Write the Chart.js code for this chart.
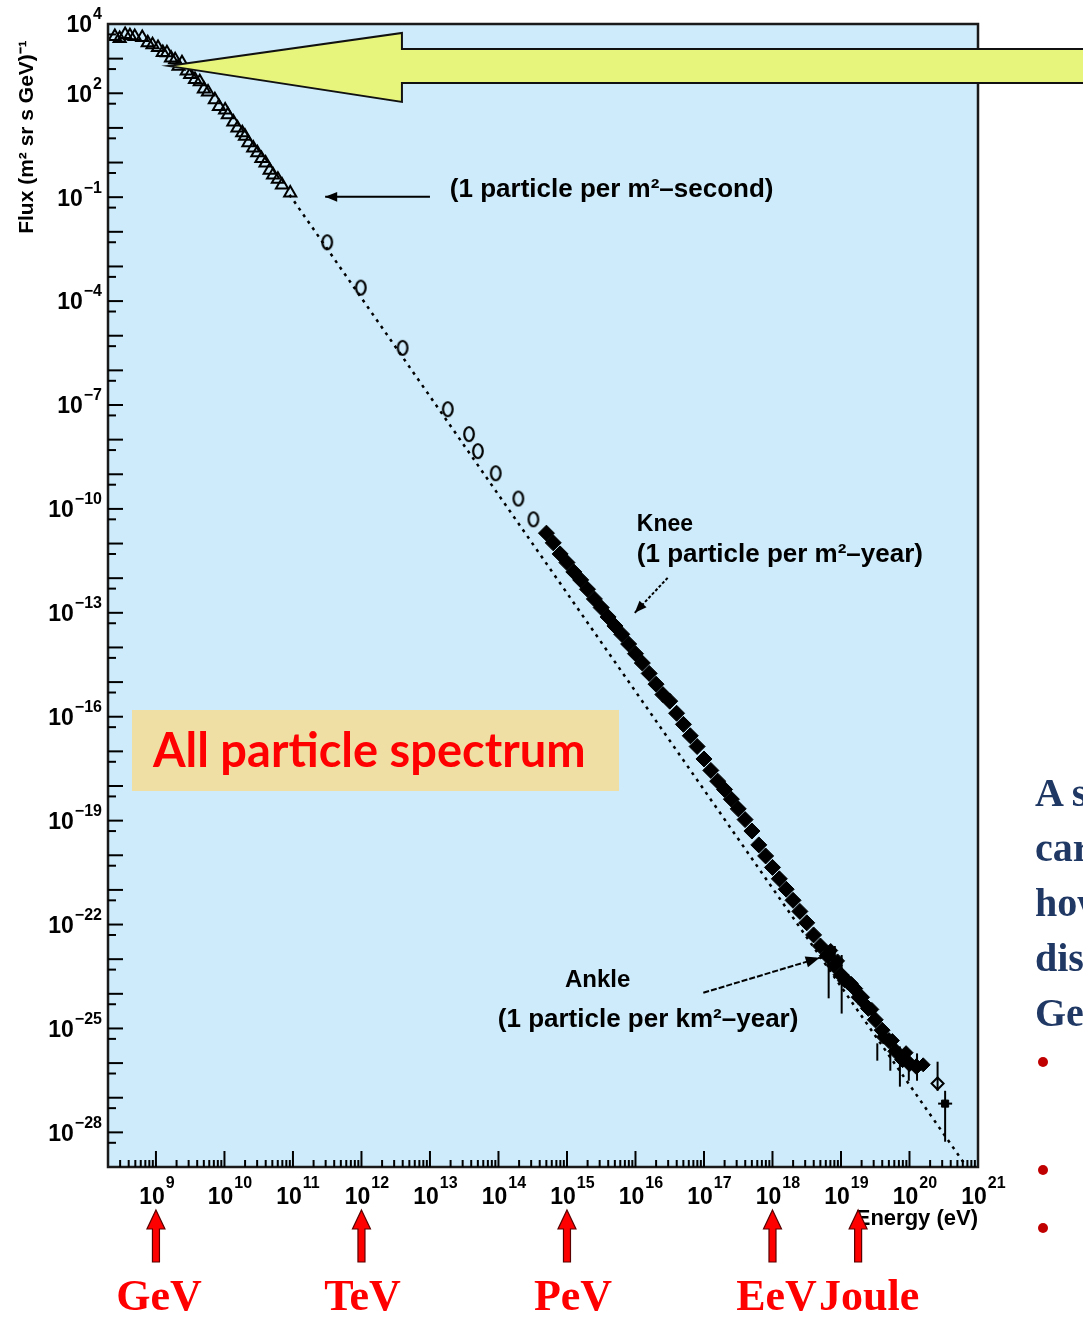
<!DOCTYPE html>
<html>
<head>
<meta charset="utf-8">
<script src="https://cdn.jsdelivr.net/npm/chart.js@4.4.1/dist/chart.umd.min.js"></script>
<style>
  html, body { margin: 0; padding: 0; background: #fff; overflow: hidden; }
  #wrap { position: relative; width: 1083px; height: 1317px; }
  #chart { position: absolute; left: 0; top: 0; }
  #side { position: absolute; left: 1035px; top: 765px; white-space: nowrap;
          font: bold 40px "Liberation Serif", "Times New Roman", serif; color: #1f3864; line-height: 55px; }
  .dot { position: absolute; left: 1038px; width: 10px; height: 10px; border-radius: 50%; background: #c00000; }
</style>
</head>
<body>
<div id="wrap">
  <canvas id="chart" width="1083" height="1317"></canvas>
  <div id="side">
    <div>A single particle</div>
    <div>carries</div>
    <div>how</div>
    <div>distant</div>
    <div>GeV</div>
  </div>
  <div class="dot" style="top:1057px"></div>
  <div class="dot" style="top:1165px"></div>
  <div class="dot" style="top:1223px"></div>
</div>
<script>
// values, as log10(energy / eV) and log10(flux)
const triangleLogE = [8.40, 8.47, 8.55, 8.62, 8.69, 8.80, 8.88, 8.95, 9.03, 9.10, 9.16, 9.22, 9.28, 9.33, 9.38,
                      9.45, 9.50, 9.57, 9.64, 9.70, 9.76, 9.86, 9.92, 10.01, 10.05, 10.13, 10.19, 10.26, 10.30,
                      10.35, 10.42, 10.48, 10.54, 10.60, 10.66, 10.71, 10.78, 10.84, 10.96];
const triangleLogF = [3.64, 3.58, 3.70, 3.66, 3.64, 3.61, 3.46, 3.40, 3.32, 3.18, 3.17, 3.02, 2.97, 2.78, 2.88,
                      2.64, 2.54, 2.40, 2.33, 2.12, 2.04, 1.81, 1.62, 1.52, 1.38, 1.17, 1.00, 0.86, 0.76,
                      0.57, 0.42, 0.28, 0.12, -0.01, -0.22, -0.36, -0.48, -0.65, -0.88];

const circleLogE = [11.50, 11.99, 12.60, 13.26, 13.57, 13.70, 13.96, 14.29, 14.51];
const circleLogF = [-2.30, -3.61, -5.35, -7.12, -7.84, -8.33, -8.97, -9.70, -10.30];

const denseLogE = [14.7, 14.8, 14.9, 15.0, 15.1, 15.2, 15.3, 15.4, 15.5, 15.6, 15.7, 15.8, 15.9, 16.0, 16.1,
                   16.2, 16.3, 16.4, 16.5, 16.6, 16.7, 16.8, 16.9, 17.0, 17.1, 17.2, 17.3, 17.4, 17.5, 17.6,
                   17.7, 17.8, 17.9, 18.0, 18.1, 18.2, 18.3, 18.4, 18.5, 18.6, 18.7, 18.8, 18.9, 19.0, 19.1,
                   19.2, 19.3, 19.4, 19.5, 19.6, 19.7, 19.8, 19.9, 20.0, 20.1];
const denseLogF = [-10.70, -10.98, -11.30, -11.55, -11.82, -12.05, -12.32, -12.60, -12.85, -13.12, -13.38,
                   -13.62, -13.90, -14.18, -14.45, -14.75, -15.06, -15.36, -15.55, -15.90, -16.22, -16.55,
                   -16.86, -17.22, -17.55, -17.86, -18.10, -18.38, -18.66, -18.97, -19.30, -19.70, -20.02,
                   -20.35, -20.68, -20.98, -21.30, -21.62, -21.95, -22.30, -22.62, -22.90, -23.18, -23.45,
                   -23.66, -23.85, -24.10, -24.42, -24.75, -25.05, -25.35, -25.66, -25.90, -26.02, -26.10];

const ankleLogE = [18.85, 18.95, 19.05, 19.15, 19.25, 19.35, 19.45, 19.62, 19.75, 19.95, 20.2];
const ankleLogF = [-22.75, -23.05, -23.62, -23.70, -24.10, -24.30, -24.45, -25.25, -25.35, -25.70, -26.05];

const errLogE    = [18.82, 18.91, 19.01, 19.53, 19.72, 19.86, 19.99, 20.11, 20.41, 20.52];
const errLogHigh = [-23.00, -22.62, -22.88, -25.43, -25.49, -25.52, -25.64, -25.72, -25.96, -26.80];
const errLogLow  = [-24.13, -23.26, -24.57, -25.93, -26.22, -26.68, -26.51, -26.51, -26.80, -28.27];

const openTopLogE = [20.41];
const openTopLogF = [-26.59];
const lastLogE = [20.52];
const lastLogF = [-27.17];

const fitLogE = [10.95, 20.8];
const fitLogF = [-0.93, -28.9];

const xTickExp = [9, 10, 11, 12, 13, 14, 15, 16, 17, 18, 19, 20, 21];
const yTickExp = [4, 2, -1, -4, -7, -10, -13, -16, -19, -22, -25, -28];

const unitLabels = ['GeV', 'TeV', 'PeV', 'EeV', 'Joule'];
const unitLogE = [9, 12, 15, 18, 19.25];

const toPoints = (xs, ys) => xs.map((e, i) => ({ x: Math.pow(10, e), y: Math.pow(10, ys[i]) }));

// tall open ring used for the "0"-like markers
const ring = document.createElement('canvas');
ring.width = 14; ring.height = 18;
(function () {
    const rc = ring.getContext('2d');
    rc.strokeStyle = '#000';
    rc.lineWidth = 2.2;
    rc.beginPath();
    rc.ellipse(7, 9, 4.8, 7, 0, 0, Math.PI * 2);
    rc.stroke();
})();

const SANS = '"Liberation Sans", Arial, sans-serif';

function supText(exp) {
    return exp < 0 ? '\u2212' + Math.abs(exp) : String(exp);
}

function arrow(ctx, x1, y1, x2, y2, head, dash) {
    ctx.save();
    ctx.strokeStyle = '#000';
    ctx.fillStyle = '#000';
    ctx.lineWidth = 2;
    if (dash) ctx.setLineDash(dash);
    ctx.beginPath(); ctx.moveTo(x1, y1); ctx.lineTo(x2, y2); ctx.stroke();
    ctx.setLineDash([]);
    const a = Math.atan2(y2 - y1, x2 - x1);
    ctx.beginPath();
    ctx.moveTo(x2, y2);
    ctx.lineTo(x2 - head * Math.cos(a) + head * 0.4 * Math.sin(a), y2 - head * Math.sin(a) - head * 0.4 * Math.cos(a));
    ctx.lineTo(x2 - head * Math.cos(a) - head * 0.4 * Math.sin(a), y2 - head * Math.sin(a) + head * 0.4 * Math.cos(a));
    ctx.closePath();
    ctx.fill();
    ctx.restore();
}

const decor = {
    id: 'decor',
    beforeDraw(chart) {
        const { ctx, chartArea: a } = chart;
        ctx.save();
        ctx.fillStyle = '#ffffff';
        ctx.fillRect(0, 0, chart.width, chart.height);
        ctx.fillStyle = '#cdebfa';
        ctx.fillRect(a.left, a.top, a.right - a.left, a.bottom - a.top);
        ctx.restore();
    },
    afterDatasetsDraw(chart) {
        const { ctx, chartArea: a } = chart;
        const px = v => chart.scales.x.getPixelForValue(Math.pow(10, v));
        const py = v => chart.scales.y.getPixelForValue(Math.pow(10, v));
        ctx.save();

        // error bars
        ctx.strokeStyle = '#000';
        ctx.lineWidth = 2;
        errLogE.forEach((e, i) => {
            ctx.beginPath();
            ctx.moveTo(px(e), py(errLogHigh[i]));
            ctx.lineTo(px(e), py(errLogLow[i]));
            ctx.stroke();
        });
        ctx.beginPath();
        ctx.moveTo(px(lastLogE[0]) - 7, py(lastLogF[0]));
        ctx.lineTo(px(lastLogE[0]) + 7, py(lastLogF[0]));
        ctx.stroke();

        // frame
        ctx.lineWidth = 2.5;
        ctx.strokeStyle = '#1a1a1a';
        ctx.strokeRect(a.left, a.top, a.right - a.left, a.bottom - a.top);

        // inward ticks
        ctx.lineWidth = 2;
        ctx.strokeStyle = '#000';
        for (let n = 8; n <= 21; n++) {
            for (let k = 1; k <= 9; k++) {
                const v = Math.log10(k) + n;
                const x = px(v);
                if (x < a.left + 1 || x > a.right - 1) continue;
                const len = k === 1 ? 16 : 7;
                ctx.beginPath(); ctx.moveTo(x, a.bottom); ctx.lineTo(x, a.bottom - len); ctx.stroke();
            }
        }
        for (let n = -29; n <= 4; n++) {
            [0, Math.log10(5)].forEach((o, j) => {
                const y = py(n + o);
                if (y < a.top + 1 || y > a.bottom - 1) return;
                const len = j === 0 ? 15 : 8;
                ctx.beginPath(); ctx.moveTo(a.left, y); ctx.lineTo(a.left + len, y); ctx.stroke();
            });
        }

        // tick labels with superscripts
        ctx.fillStyle = '#000';
        ctx.textBaseline = 'middle';
        const baseFont = 'bold 23px ' + SANS, expFont = 'bold 16px ' + SANS;
        yTickExp.forEach(n => {
            const y = py(n);
            ctx.font = expFont;
            const es = supText(n), ew = ctx.measureText(es).width;
            ctx.font = baseFont;
            const bw = ctx.measureText('10').width;
            const x0 = a.left - 6 - ew - bw - 1;
            ctx.textAlign = 'left';
            ctx.fillText('10', x0, y + 2);
            ctx.font = expFont;
            ctx.fillText(es, x0 + bw + 1, y - 9);
        });
        xTickExp.forEach(n => {
            const x = px(n) - 4;
            ctx.font = baseFont;
            ctx.textAlign = 'center';
            const bw = ctx.measureText('10').width;
            ctx.fillText('10', x, a.bottom + 31);
            ctx.font = expFont;
            ctx.textAlign = 'left';
            ctx.fillText(supText(n), x + bw / 2 + 1, a.bottom + 17);
        });

        // axis titles
        ctx.font = 'bold 22px ' + SANS;
        ctx.textAlign = 'right';
        ctx.fillText('Energy (eV)', a.right, a.bottom + 52);
        ctx.save();
        ctx.translate(27, 137);
        ctx.rotate(-Math.PI / 2);
        ctx.textAlign = 'center';
        ctx.font = 'bold 21px ' + SANS;
        ctx.fillText('Flux (m\u00b2 sr s GeV)\u207b\u00b9', 0, 0);
        ctx.restore();

        // annotations
        ctx.textAlign = 'left';
        const notes = [
            ['(1 particle per m\u00b2\u2013second)', 13.29, -0.79, 26],
            ['Knee', 16.02, -10.46, 23],
            ['(1 particle per m\u00b2\u2013year)', 16.02, -11.33, 26],
            ['Ankle', 14.97, -23.60, 24],
            ['(1 particle per km\u00b2\u2013year)', 13.99, -24.75, 26]
        ];
        notes.forEach(([t, e, f, s]) => {
            ctx.font = 'bold ' + s + 'px ' + SANS;
            ctx.fillText(t, px(e), py(f));
        });
        arrow(ctx, px(13.0), py(-0.99), px(11.47), py(-0.99), 12);
        arrow(ctx, px(16.47), py(-11.99), px(15.99), py(-13.0), 12, [3, 2]);
        arrow(ctx, px(16.99), py(-23.97), px(18.69), py(-22.96), 14, [6, 2]);

        // label box
        ctx.fillStyle = '#f0dfa4';
        ctx.fillRect(132, 710, 487, 81);
        ctx.fillStyle = '#ff0000';
        ctx.font = 'bold 47px Lato, "Open Sans", sans-serif';
        ctx.fillText('All particle spectrum', 153, 752);

        // big yellow arrow pointing at the low-energy data
        const tx = px(9.175), ty = py(2.79);
        ctx.beginPath();
        ctx.moveTo(tx, ty);
        ctx.lineTo(tx + 234, ty - 33);
        ctx.lineTo(tx + 234, ty - 17);
        ctx.lineTo(chart.width + 10, ty - 17);
        ctx.lineTo(chart.width + 10, ty + 17);
        ctx.lineTo(tx + 234, ty + 17);
        ctx.lineTo(tx + 234, ty + 36);
        ctx.closePath();
        ctx.fillStyle = '#e8f57c';
        ctx.fill();
        ctx.lineWidth = 2;
        ctx.strokeStyle = '#111';
        ctx.stroke();

        // red unit arrows below the energy axis
        ctx.font = 'bold 44px "Liberation Serif", "Times New Roman", serif';
        ctx.textAlign = 'center';
        const labelShift = [3, 1, 6, 4, 11];
        unitLogE.forEach((e, i) => {
            const x = px(e);
            const top = a.bottom + 43, base = top + 19, bot = a.bottom + 95;
            ctx.beginPath();
            ctx.moveTo(x, top);
            ctx.lineTo(x + 9, base);
            ctx.lineTo(x + 3.5, base);
            ctx.lineTo(x + 3.5, bot);
            ctx.lineTo(x - 3.5, bot);
            ctx.lineTo(x - 3.5, base);
            ctx.lineTo(x - 9, base);
            ctx.closePath();
            ctx.fillStyle = '#ff0000';
            ctx.fill();
            ctx.lineWidth = 1.2;
            ctx.strokeStyle = '#5a0000';
            ctx.stroke();
            ctx.fillStyle = '#ff0000';
            ctx.fillText(unitLabels[i], x + labelShift[i], a.bottom + 132);
        });

        ctx.restore();
    }
};

new Chart(document.getElementById('chart'), {
    type: 'scatter',
    data: {
        datasets: [
            {
                label: 'fit',
                data: toPoints(fitLogE, fitLogF),
                showLine: true,
                borderColor: '#000',
                borderWidth: 2.5,
                borderDash: [3, 5],
                pointRadius: 0
            },
            {
                label: 'low energy',
                data: toPoints(triangleLogE, triangleLogF),
                pointStyle: 'triangle',
                pointRadius: 7,
                borderColor: '#000',
                borderWidth: 2,
                backgroundColor: 'rgba(0,0,0,0)'
            },
            {
                label: 'direct',
                data: toPoints(circleLogE, circleLogF),
                pointStyle: ring
            },
            {
                label: 'air showers',
                data: toPoints(denseLogE, denseLogF),
                pointStyle: 'rectRot',
                pointRadius: 8,
                borderColor: '#000',
                backgroundColor: '#000',
                borderWidth: 1
            },
            {
                label: 'ankle',
                data: toPoints(ankleLogE, ankleLogF),
                pointStyle: 'rectRot',
                pointRadius: 7,
                borderColor: '#000',
                backgroundColor: '#000',
                borderWidth: 1
            },
            {
                label: 'highest open',
                data: toPoints(openTopLogE, openTopLogF),
                pointStyle: 'rectRot',
                pointRadius: 6,
                borderColor: '#000',
                borderWidth: 2,
                backgroundColor: 'rgba(0,0,0,0)'
            },
            {
                label: 'highest',
                data: toPoints(lastLogE, lastLogF),
                pointStyle: 'rect',
                pointRadius: 5,
                borderColor: '#000',
                backgroundColor: '#000'
            }
        ]
    },
    options: {
        responsive: false,
        animation: false,
        layout: { padding: { left: 108, top: 24, right: 105, bottom: 150 } },
        plugins: { legend: { display: false }, tooltip: { enabled: false } },
        scales: {
            x: { type: 'logarithmic', display: false, min: Math.pow(10, 8.3), max: 1e21 },
            y: { type: 'logarithmic', display: false, min: 1e-29, max: 1e4 }
        }
    },
    plugins: [decor]
});
</script>
</body>
</html>
